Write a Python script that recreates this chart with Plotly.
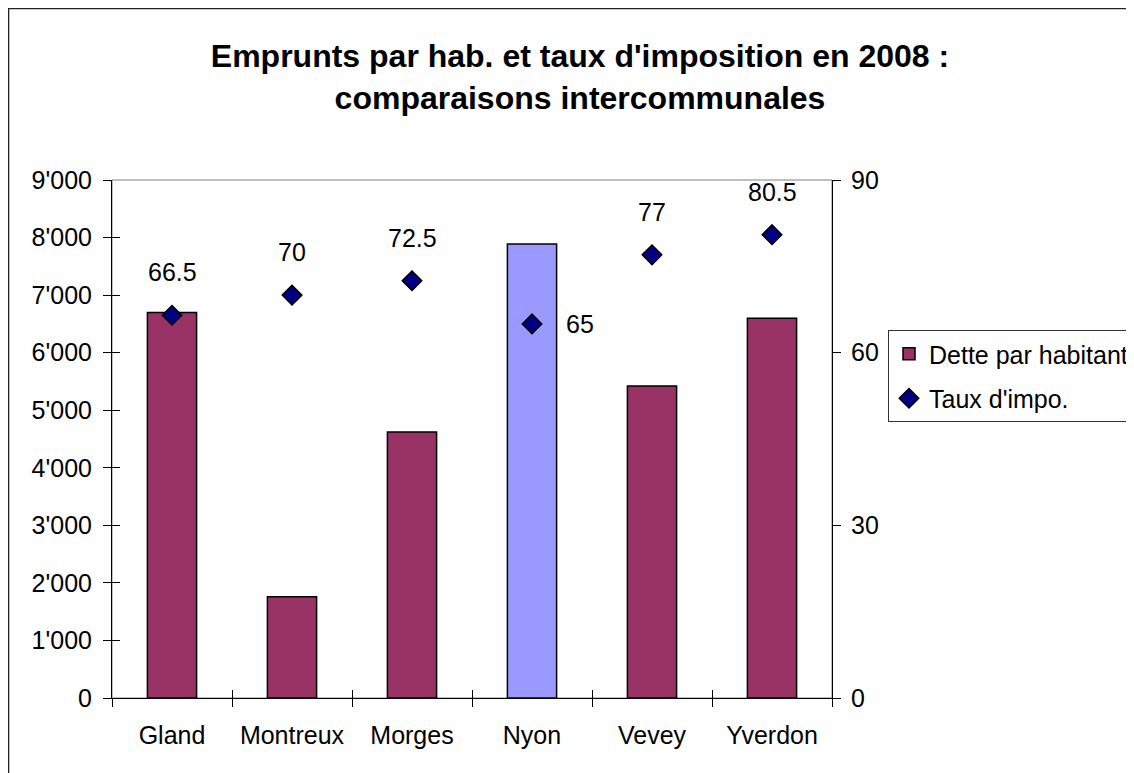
import plotly.graph_objects as go

communes = ["Gland", "Montreux", "Morges", "Nyon", "Vevey", "Yverdon"]
dette = [6700, 1760, 4620, 7890, 5420, 6600]
taux = [66.5, 70, 72.5, 65, 77, 80.5]
highlight = "Nyon"

FONT = "Arial, Liberation Sans, sans-serif"
W, H = 1134, 773
OFF = 8  # page body margin
# plot area in window pixels: x 112..832, y 180..698
L = 112 - OFF
T = 180 - OFF
PW, PH = 720, 518
R = W - L - PW
B = H - T - PH

bar_colors = ["#9999FF" if c == highlight else "#993366" for c in communes]

fig = go.Figure()
fig.add_trace(go.Bar(
    x=communes, y=dette, name="Dette par habitant",
    marker=dict(color=bar_colors, line=dict(color="#000000", width=1.5)),
    legendgroup="a", xaxis="x", yaxis="y",
))
fig.add_trace(go.Scatter(
    x=communes, y=taux, name="Taux d'impo.", mode="markers",
    marker=dict(symbol="diamond", size=15, color="#000080",
                line=dict(color="#000000", width=1.5)),
    legendgroup="b", xaxis="x", yaxis="y2",
))
# empty helper trace so the overlay axes (inner halves of crossing ticks) are drawn
fig.add_trace(go.Scatter(x=[None], y=[None], xaxis="x2", yaxis="y3",
                         showlegend=False, hoverinfo="skip", mode="markers"))

for c, v in zip(communes, taux):
    if c == highlight:
        fig.add_annotation(x=c, y=v, xref="x", yref="y2", text=f"{v:g}",
                           showarrow=False, xanchor="left", yanchor="middle",
                           xshift=32, font=dict(family=FONT, size=25, color="#000"))
    else:
        fig.add_annotation(x=c, y=v, xref="x", yref="y2", text=f"{v:g}",
                           showarrow=False, xanchor="center", yanchor="middle",
                           yshift=43, font=dict(family=FONT, size=25, color="#000"))

# plot area border (gray) and outer chart border
fig.add_shape(type="rect", xref="paper", yref="paper", x0=0, x1=1, y0=0, y1=1,
              line=dict(color="#808080", width=1), layer="below")
fig.add_shape(type="rect", xref="paper", yref="paper",
              x0=(0.3 - L) / PW, x1=1.8,
              y0=-0.5, y1=(T + PH - 0.3) / PH,
              line=dict(color="#222222", width=2))

axis_font = dict(family=FONT, size=25, color="#000")
n = len(communes)
fig.update_layout(
    width=W, height=H,
    margin=dict(l=L, r=R, t=T, b=B, autoexpand=False),
    paper_bgcolor="white", plot_bgcolor="white",
    separators=".'",
    bargap=0.59,
    title=dict(text="Emprunts par hab. et taux d'imposition en 2008 :<br>comparaisons intercommunales",
               x=(580 - OFF) / W, xanchor="center", y=1 - (67 - OFF) / H, yanchor="middle",
               font=dict(family=FONT, size=32, color="#000", weight="bold")),
    xaxis=dict(type="category", range=[-0.5, n - 0.5], tickson="boundaries",
               ticks="outside", ticklen=8, tickcolor="#000", tickwidth=1,
               showline=True, linecolor="#000", linewidth=1, showgrid=False,
               tickfont=axis_font, ticklabelstandoff=15),
    xaxis2=dict(overlaying="x", anchor="y", range=[-0.5, n - 0.5],
                tickmode="array", tickvals=[i - 0.5 for i in range(n + 1)],
                ticks="inside", ticklen=8, tickcolor="#000", tickwidth=1,
                showticklabels=False, showgrid=False, zeroline=False, showline=False),
    yaxis=dict(range=[0, 9000], dtick=1000, tickformat=",d",
               ticks="outside", ticklen=8, tickcolor="#000", tickwidth=1,
               showline=True, linecolor="#000", linewidth=1,
               showgrid=False, zeroline=False, tickfont=axis_font,
               ticklabelstandoff=6),
    yaxis3=dict(overlaying="y", anchor="x", side="left", range=[0, 9000], dtick=1000,
                ticks="inside", ticklen=8, tickcolor="#000", tickwidth=1,
                showticklabels=False, showgrid=False, zeroline=False, showline=False),
    yaxis2=dict(overlaying="y", anchor="x", side="right", range=[0, 90], dtick=30,
                ticks="outside", ticklen=8, tickcolor="#000", tickwidth=1,
                showline=True, linecolor="#000", linewidth=1,
                showgrid=False, zeroline=False, tickfont=axis_font,
                ticklabelstandoff=5),
    showlegend=True,
    legend=dict(x=(888 - OFF - L) / PW, xanchor="left",
                y=(T + PH - (330 - OFF)) / PH, yanchor="top",
                bordercolor="#333333", borderwidth=1, bgcolor="white",
                font=dict(family=FONT, size=25, color="#000"),
                traceorder="grouped", tracegroupgap=9),
)

fig.write_html("out.html")
